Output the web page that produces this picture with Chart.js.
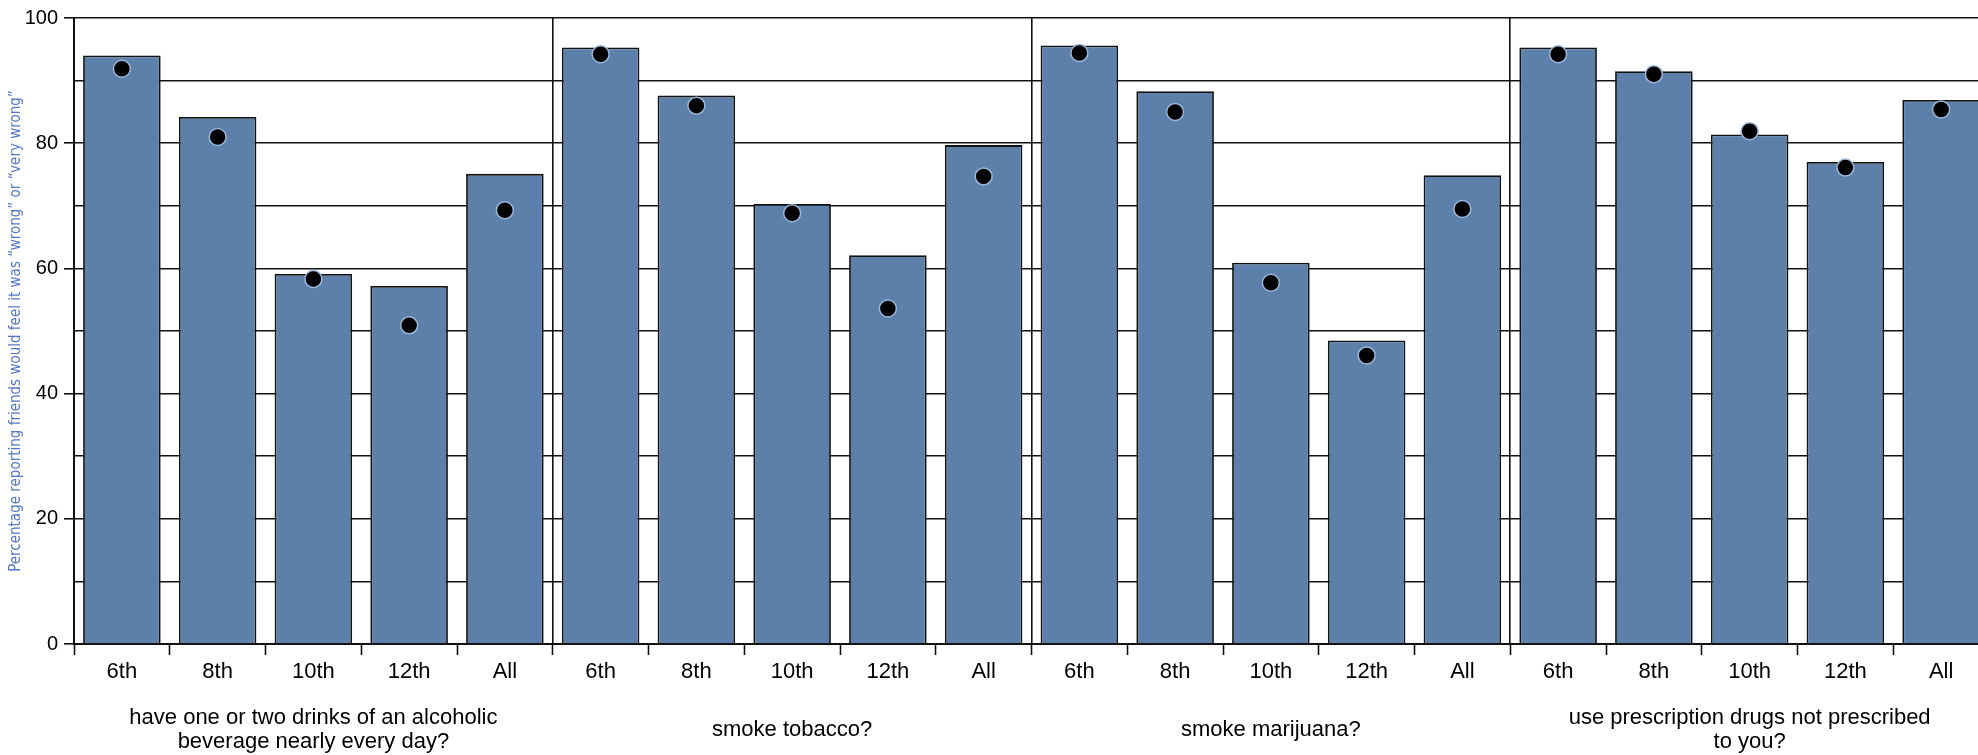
<!DOCTYPE html>
<html>
<head>
<meta charset="utf-8">
<script src="https://cdn.jsdelivr.net/npm/chart.js@4/dist/chart.umd.min.js"></script>
<style>
  html, body { margin: 0; padding: 0; background: #fff; overflow: hidden; }
  #wrap { position: relative; width: 2000px; height: 755px; }
</style>
</head>
<body>
<div id="wrap"><canvas id="c"></canvas></div>
<script>
// ---- data ----
const grades = ['6th', '8th', '10th', '12th', 'All'];
const panels = [
  ['have one or two drinks of an alcoholic', 'beverage nearly every day?'],
  'smoke tobacco?',
  'smoke marijuana?',
  ['use prescription drugs not prescribed', 'to you?']
];
const alcoholBars  = [94.0, 84.2, 59.1, 57.2, 75.1];
const alcoholDots  = [91.9, 81.0, 58.3, 50.9, 69.3];
const tobaccoBars  = [95.3, 87.6, 70.3, 62.1, 79.7];
const tobaccoDots  = [94.2, 86.0, 68.8, 53.6, 74.7];
const marijuanaBars = [95.6, 88.3, 60.9, 48.5, 74.9];
const marijuanaDots = [94.4, 85.0, 57.7, 46.1, 69.5];
const rxBars = [95.3, 91.5, 81.4, 77.0, 86.9];
const rxDots = [94.2, 91.0, 81.9, 76.1, 85.4];
const yTicks = [0, 20, 40, 60, 80, 100];
const yTitle = 'Percentage reporting friends would feel it was \u201Cwrong\u201D or \u201Cvery wrong\u201D';

// ---- build ----
const xLabels = [].concat(grades, grades, grades, grades);
const barData = [].concat(alcoholBars, tobaccoBars, marijuanaBars, rxBars);
const dotData = [].concat(alcoholDots, tobaccoDots, marijuanaDots, rxDots);

const FONT = "'Liberation Sans', Arial, Helvetica, sans-serif";
const INK = '#111111';

new Chart(document.getElementById('c'), {
  type: 'bar',
  data: {
    labels: xLabels,
    datasets: [
      {
        type: 'line',
        data: dotData,
        showLine: false,
        pointRadius: 8.5,
        pointHoverRadius: 8.5,
        pointBackgroundColor: '#000000',
        pointBorderColor: '#9bb8dc',
        pointBorderWidth: 1.5,
        order: 0
      },
      {
        type: 'bar',
        data: barData,
        backgroundColor: '#5c80aa',
        borderColor: INK,
        borderWidth: 1.8,
        barPercentage: 0.9,
        categoryPercentage: 0.9,
        order: 1
      }
    ]
  },
  options: {
    responsive: true,
    maintainAspectRatio: false,
    animation: false,
    layout: { padding: { top: 17, right: 11, bottom: 0, left: 0 } },
    plugins: { legend: { display: false }, tooltip: { enabled: false } },
    scales: {
      x: {
        type: 'category',
        position: 'bottom',
        offset: true,
        grid: {
          offset: true,
          drawOnChartArea: false,
          drawTicks: true,
          tickLength: 11,
          tickColor: INK,
          tickWidth: 1.6
        },
        border: { display: true, color: INK, width: 2 },
        ticks: {
          autoSkip: false,
          maxRotation: 0,
          minRotation: 0,
          padding: 4,
          color: '#000',
          font: { family: FONT, size: 22 }
        },
        afterFit: s => { s.height = 45; }
      },
      x2: {
        type: 'category',
        position: 'bottom',
        labels: panels,
        offset: true,
        grid: {
          offset: true,
          drawOnChartArea: true,
          drawTicks: false,
          color: INK,
          lineWidth: 1.6
        },
        border: { display: false },
        ticks: {
          autoSkip: false,
          maxRotation: 0,
          minRotation: 0,
          padding: 29,
          crossAlign: 'center',
          color: '#000',
          font: { family: FONT, size: 22, lineHeight: 1.09 }
        },
        afterFit: s => { s.height = 66; }
      },
      y: {
        type: 'linear',
        min: 0,
        max: 100,
        grid: {
          color: INK,
          lineWidth: 1.6,
          drawTicks: true,
          tickLength: 10,
          tickColor: ctx => (ctx.tick && yTicks.includes(ctx.tick.value)) ? INK : 'rgba(0,0,0,0)',
          tickWidth: 1.6
        },
        border: { display: true, color: INK, width: 2 },
        ticks: {
          stepSize: 10,
          padding: 6,
          color: '#000',
          font: { family: FONT, size: 20 },
          callback: v => yTicks.includes(v) ? String(v) : ''
        },
        title: {
          display: true,
          text: yTitle,
          color: '#5577c4',
          padding: { top: 7, bottom: 0 },
          font: { family: "'Liberation Sans Narrow', 'DejaVu Sans Condensed', 'Liberation Sans', sans-serif", size: 15 }
        },
        afterFit: s => { s.width = 74; }
      }
    }
  }
});
</script>
</body>
</html>
